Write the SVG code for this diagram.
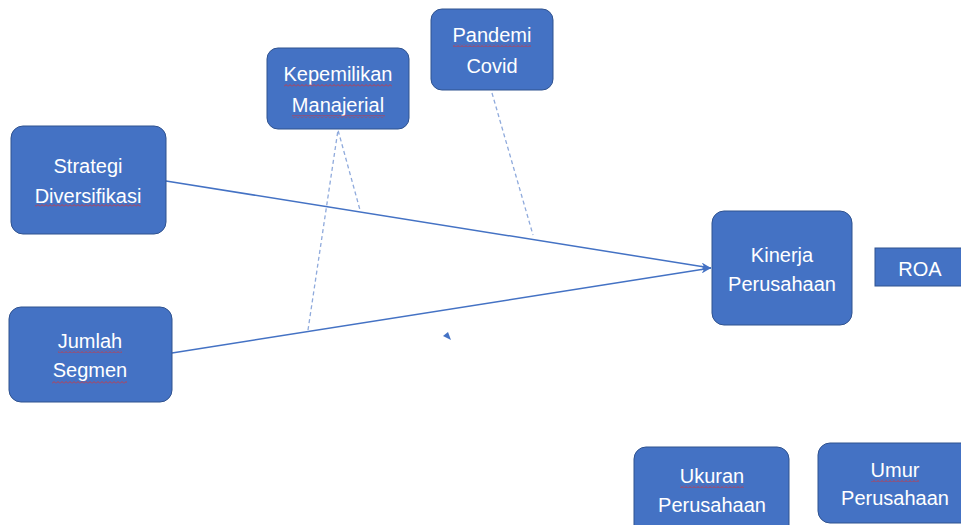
<svg xmlns="http://www.w3.org/2000/svg" width="961" height="525" viewBox="0 0 961 525">
<style>
.box{fill:#4472C4;stroke:#2F528F;stroke-width:1}
.t{font-family:"Liberation Sans",Arial,sans-serif;font-size:20px;fill:#ffffff;text-anchor:middle}
.ln{stroke:#4472C4;stroke-width:1.5;fill:none}
.dl{stroke:#8FAADC;stroke-width:1.3;stroke-dasharray:4 3;fill:none}
</style>
<defs>
<marker id="ah" viewBox="0 0 10 8" refX="10" refY="4" markerWidth="10" markerHeight="8" markerUnits="userSpaceOnUse" orient="auto">
<path d="M0,0 L10,4 L0,8 L3,4 Z" fill="#4472C4"/>
</marker>
<pattern id="wv" width="4" height="3" patternUnits="userSpaceOnUse">
<path d="M0,2.5 L2,0.5 L4,2.5" fill="none" stroke="#E03030" stroke-width="0.8"/>
</pattern>
</defs>
<g id="connectors">
<line class="ln" x1="166" y1="181" x2="711" y2="268" marker-end="url(#ah)"/>
<line class="ln" x1="172" y1="353" x2="711" y2="268" marker-end="url(#ah)"/>
<polyline class="dl" points="308,330 338,130 360,210"/>
<line class="dl" x1="492" y1="93" x2="533" y2="235"/>
<path d="M448,332 L443,336 L451,340 Z" fill="#4472C4"/>
</g>
<g id="strategi">
<rect class="box" x="11" y="126" width="155" height="108" rx="12"/>
<text class="t" x="88" y="173">Strategi</text>
<text class="t" x="88" y="203">Diversifikasi</text>
<rect x="35" y="204" width="106" height="3" fill="url(#wv)"/>
</g>
<g id="jumlah">
<rect class="box" x="9" y="307" width="163" height="95" rx="12"/>
<text class="t" x="90" y="348">Jumlah</text>
<text class="t" x="90" y="377">Segmen</text>
<rect x="58" y="350" width="64" height="3" fill="url(#wv)"/>
<rect x="52" y="381" width="75" height="3" fill="url(#wv)"/>
</g>
<g id="kepemilikan">
<rect class="box" x="267" y="48" width="142" height="81" rx="11"/>
<text class="t" x="338" y="81">Kepemilikan</text>
<text class="t" x="338" y="112">Manajerial</text>
<rect x="284" y="84" width="108" height="3" fill="url(#wv)"/>
<rect x="292" y="115" width="93" height="3" fill="url(#wv)"/>
</g>
<g id="pandemi">
<rect class="box" x="431" y="9" width="122" height="81" rx="11"/>
<text class="t" x="492" y="42">Pandemi</text>
<text class="t" x="492" y="73">Covid</text>
<rect x="453" y="44" width="78" height="3" fill="url(#wv)"/>
</g>
<g id="kinerja">
<rect class="box" x="712" y="211" width="140" height="114" rx="12"/>
<text class="t" x="782" y="262">Kinerja</text>
<text class="t" x="782" y="291">Perusahaan</text>
</g>
<g id="roa">
<rect class="box" x="875" y="248" width="90" height="38"/>
<text class="t" x="920" y="276">ROA</text>
</g>
<g id="ukuran">
<rect class="box" x="634" y="447" width="155" height="90" rx="12"/>
<text class="t" x="712" y="483">Ukuran</text>
<text class="t" x="712" y="512">Perusahaan</text>
<rect x="680" y="485" width="64" height="3" fill="url(#wv)"/>
</g>
<g id="umur">
<rect class="box" x="818" y="443" width="155" height="80" rx="12"/>
<text class="t" x="895" y="477">Umur</text>
<text class="t" x="895" y="505">Perusahaan</text>
<rect x="871" y="479" width="48" height="3" fill="url(#wv)"/>
</g>
</svg>
